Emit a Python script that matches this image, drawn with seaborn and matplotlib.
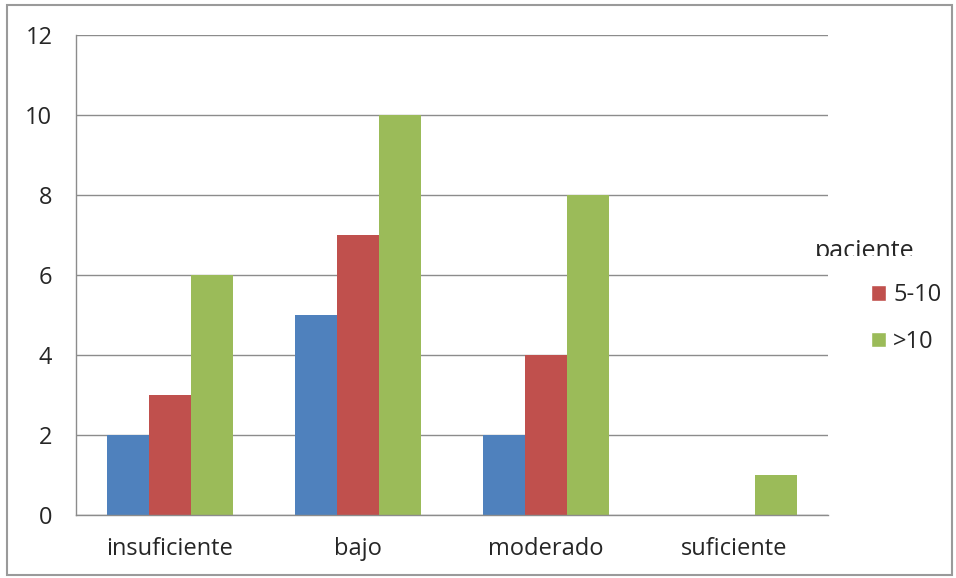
import pandas as pd
import matplotlib.pyplot as plt
import seaborn as sns
from matplotlib.patches import Rectangle, Patch
from matplotlib.transforms import Bbox, TransformedBbox

# Data
categories = ["insuficiente", "bajo", "moderado", "suficiente"]
groups = ["<5", "5-10", ">10"]
vals_lt5 = [2, 5, 2, 0]
vals_5_10 = [3, 7, 4, 0]
vals_gt10 = [6, 10, 8, 1]
colors = ["#4F81BD", "#C0504D", "#9BBB59"]

df = pd.DataFrame({
    "nivel": categories * 3,
    "paciente": [g for g in groups for _ in categories],
    "valor": vals_lt5 + vals_5_10 + vals_gt10,
})

sns.set_style("white")
plt.rcParams["font.family"] = ["Open Sans", "DejaVu Sans"]
fs = 17

fig = plt.figure(figsize=(9.56, 5.78), dpi=100)
ax = fig.add_axes([76 / 956, 1 - 515 / 578, (828 - 76) / 956, (515 - 35) / 578])

sns.barplot(data=df, x="nivel", y="valor", hue="paciente", hue_order=groups,
            palette=colors, width=0.667, saturation=1, ax=ax, legend=False,
            edgecolor="none")

grid_c = "#8C8C8C"
ax.set_ylim(0, 12)
ax.set_xlim(-0.5, 3.5)
ax.set_yticks(range(0, 13, 2))
ax.yaxis.grid(True, color=grid_c, linewidth=1)
ax.set_axisbelow(True)
ax.tick_params(axis="y", length=8, color=grid_c, width=1, labelsize=fs, pad=9, direction="out")
ax.tick_params(axis="x", which="major", length=0, labelsize=fs, pad=16)
ax.set_xticks([-0.5, 0.5, 1.5, 2.5, 3.5], minor=True)
ax.tick_params(axis="x", which="minor", length=8, color=grid_c, width=1, direction="out")
for s in ["top", "right"]:
    ax.spines[s].set_visible(False)
for s in ["left", "bottom"]:
    ax.spines[s].set_color(grid_c)
    ax.spines[s].set_linewidth(1)
ax.set_xlabel("")
ax.set_ylabel("")

# Legend (title is clipped at the bottom, as in the original)
title = fig.text(815 / 956, 1 - 252 / 578, "paciente", fontsize=fs + 1, va="center", ha="left",
                 clip_on=True)
title.set_clip_box(TransformedBbox(Bbox.from_extents(0, 1 - 256 / 578, 1, 1), fig.transFigure))
handles = [Patch(facecolor=colors[1]), Patch(facecolor=colors[2])]
fig.legend(handles, groups[1:], loc="upper left", bbox_to_anchor=(862 / 956, 1 - 274 / 578),
           borderaxespad=0, frameon=False, fontsize=fs, handlelength=0.62, handleheight=0.62,
           handletextpad=0.3, labelspacing=0.95)

# Outer border
fig.patches.append(Rectangle((7 / 956, 3 / 578), 945 / 956, 570 / 578, transform=fig.transFigure,
                             fill=False, edgecolor="#9A9A9A", linewidth=1.5))

fig.savefig("out.png", dpi=100)
